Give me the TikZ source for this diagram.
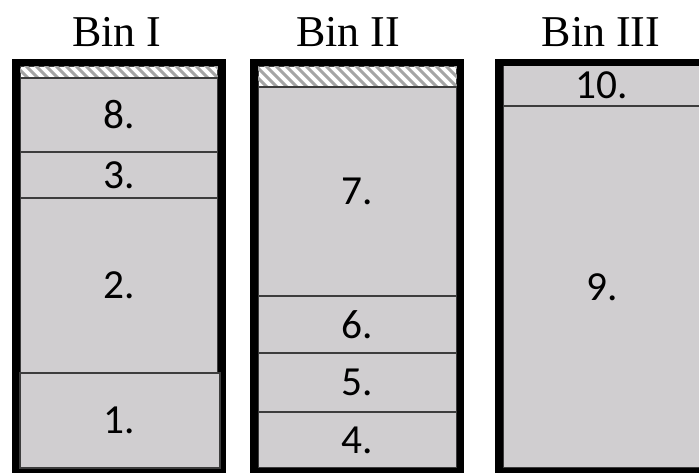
\documentclass[tikz,border=0pt]{standalone}
\usepackage{fontspec}
\setmainfont{Liberation Serif}
\newfontfamily\numfont{Carlito}
\usepackage{xcolor}
\usetikzlibrary{positioning}

\definecolor{itemgray}{RGB}{208,206,208}
\definecolor{sepgray}{RGB}{60,60,60}
\definecolor{hatchgray}{RGB}{165,165,165}

\begin{document}
\begin{tikzpicture}[
	x=0.75pt, y=-0.75pt,
	item/.style={fill=itemgray, draw=sepgray, line width=1.3pt},
	binbox/.style={draw=black, line width=5.4pt},
	hatchbox/.style={fill=white, draw=sepgray, line width=1.3pt},
	hatchline/.style={draw=hatchgray, line width=2.2pt},
	num/.style={font=\numfont\fontsize{31}{31}\selectfont, inner sep=0pt},
	title/.style={font=\fontsize{33}{33}\selectfont, inner sep=0pt, anchor=base}
]
\useasboundingbox (0,0) rectangle (699,473);
\clip (0,0) rectangle (699,473);

% titles
\node[title] (tI)   at (117,47) {Bin I};
\node[title] (tII)  at (348,47) {Bin II};
\node[title] (tIII) at (601,47) {Bin III};

% empty space at the top of bins I and II
\draw[hatchbox] (20,66) rectangle (218,78);
\begin{scope}
	\clip (20,66) rectangle (218,78);
	\foreach \x in {0,10,...,220}
		\draw[hatchline] (\x,60) -- ++(24,24);
\end{scope}
\draw[hatchbox] (258,66) rectangle (457,87);
\begin{scope}
	\clip (258,66) rectangle (457,87);
	\foreach \x in {230,240,...,460}
		\draw[hatchline] (\x,60) -- ++(33,33);
\end{scope}

% items: top/bottom/label
\foreach \ya/\yb/\lab in {78/152/8, 152/198/3, 198/373/2}{
	\draw[item] (20,\ya) rectangle (218,\yb);
	\node[num] (n\lab) at (119,{(\ya+\yb)/2}) {\lab.};
}
\foreach \ya/\yb/\lab in {87/296/7, 296/353/6, 353/412/5, 412/468/4}{
	\draw[item] (258,\ya) rectangle (457,\yb);
	\node[num] (n\lab) at (357.5,{(\ya+\yb)/2}) {\lab.};
}
\foreach \ya/\yb/\lab in {64/106/10, 106/468/9}{
	\draw[item] (503,\ya) rectangle (703,\yb);
	\node[num] (n\lab) at (602,{(\ya+\yb)/2}) {\lab.};
}

% bins
\draw[binbox] (16,62.5) rectangle (222,471.5);
\draw[binbox] (254,62.5) rectangle (460.5,471.5);
\draw[binbox] (499,62.5) rectangle (706,471.5);

% item 1 sits slightly over the right wall of bin I
\draw[item] (20,373) rectangle (220,468);
\node[num] (n1) at (119,420.5) {1.};
\end{tikzpicture}
\end{document}
